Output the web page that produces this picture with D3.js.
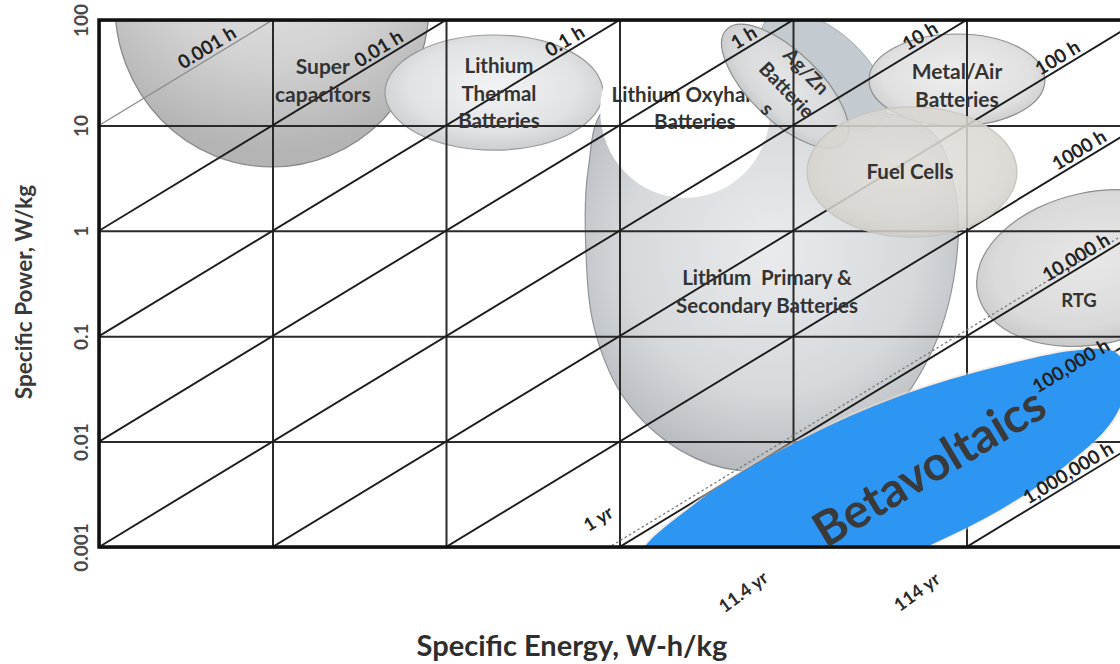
<!DOCTYPE html>
<html>
<head>
<meta charset="utf-8">
<script src="https://cdn.jsdelivr.net/npm/d3@7"></script>
<style>
  html, body { margin: 0; padding: 0; background: #fff; }
  svg { display: block; font-family: Lato, "Open Sans", sans-serif; }
</style>
</head>
<body>
<svg id="chart" width="1120" height="664"></svg>
<script>
// ---- Axes (decades, W-h/kg and W/kg) ----
const energyTicks = [0.01, 0.1, 1, 10, 100, 1000, 10000];
const powerTicks = [0.001, 0.01, 0.1, 1, 10, 100];
const powerTickLabels = ["0.001", "0.01", "0.1", "1", "10", "100"];

// ---- Constant discharge-time lines (hours) ----
const runHours = [0.001, 0.01, 0.1, 1, 10, 100, 1000, 10000, 100000, 1000000];
const runLabels = ["0.001 h", "0.01 h", "0.1 h", "1 h", "10 h", "100 h", "1000 h", "10,000 h", "100,000 h", "1,000,000 h"];
const runLabelEnergy = [0.045, 0.44, 5.2, 56, 580, 3600, 4800, 4600, 4300, 4150];

// one-year line and the year equivalents of the longest lines
const yearHours = 8760;
const yearLabel = "1 yr";
const yearEquivHours = [100000, 1000000];
const yearEquivLabels = ["11.4 yr", "114 yr"];

// ---- Technology regions as ellipses: centre (W-h/kg, W/kg), half-size in decades, tilt ----
const blobKeys   = ["super", "thermal", "oxyhalide", "agznBack", "agzn", "metalAir", "rtg", "fuel"];
const blobEnergy = [0.0993, 1.89, 23.9, 150, 90, 881, 5510, 485];
const blobPower  = [139, 20.5, 14, 33, 23.5, 27, 0.443, 3.61];
const blobSpanE  = [0.905, 0.628, 0.49, 0.44, 0.47, 0.507, 0.692, 0.605];
const blobSpanP  = [1.537, 0.546, 0.835, 0.38, 0.33, 0.436, 0.721, 0.617];
const blobTilt   = [0, 0, 0, 42, 44, 0, -12, 0];

// Lithium primary & secondary batteries outline (W-h/kg, W/kg)
const liPrimaryEnergy = [8.4, 6.6, 6.4, 7.2, 10.8, 22.3, 49.5, 125, 317, 616, 859, 859, 616, 213, 38];
const liPrimaryPower  = [14.6, 3.8, 0.66, 0.115, 0.025, 0.0083, 0.0053, 0.0064, 0.0144, 0.066, 0.42, 2.44, 9.0, 14.6, 15.6];

// Betavoltaics outline (W-h/kg, W/kg)
const betaEnergy = [13.1, 29.1, 110, 414, 1560, 4510, 7170, 8530, 6980, 3460, 1560, 617, 213, 37.9];
const betaPower  = [0.000753, 0.00279, 0.01035, 0.0271, 0.0521, 0.0740, 0.0708, 0.0429, 0.0160, 0.00538, 0.00225, 0.00104, 0.000486, 0.000391];

// Region names and their anchor points
const nameLines  = [["Super", "capacitors"], ["Lithium", "Thermal", "Batteries"], ["Lithium Oxyhalide", "Batteries"],
                    ["Metal/Air", "Batteries"], ["Fuel Cells"], ["Lithium\u00a0 Primary &", "Secondary Batteries"], ["RTG"]];
const nameEnergy = [0.195, 2.02, 27.2, 881, 472, 70.8, 4450];
const namePower  = [26.4, 19.9, 14.6, 23.7, 3.61, 0.262, 0.220];
const agznLines = ["Ag/Zn", "Batterie", "s"];
const agznEnergy = 92.2, agznPower = 21.7;
const betaLabel = "Betavoltaics";
const betaLabelEnergy = 608, betaLabelPower = 0.00574;

// ---- Layout ----
const svg = d3.select("#chart");
const x = d3.scaleLog().domain([0.01, 10000]).range([99, 1140]);
const y = d3.scaleLog().domain([0.001, 100]).range([547, 20]);
const [x0, x1] = x.range();
const [yb, yt] = y.range();

const defs = svg.append("defs");
defs.append("clipPath").attr("id", "plotClip")
  .append("rect").attr("x", x0).attr("y", yt).attr("width", x1 - x0).attr("height", yb - yt);

function radial(id, stops, cx = "50%", cy = "45%", r = "60%") {
  const g = defs.append("radialGradient").attr("id", id).attr("cx", cx).attr("cy", cy).attr("r", r);
  stops.forEach(([o, c]) => g.append("stop").attr("offset", o).attr("stop-color", c));
}
radial("gSuper", [["0%", "#ececec"], ["60%", "#d2d2d2"], ["100%", "#b4b4b4"]], "50%", "25%", "70%");
radial("gThermal", [["0%", "#f2f3f4"], ["65%", "#e0e2e3"], ["100%", "#c6c9cb"]]);
radial("gPrimary", [["0%", "#e9ebed"], ["60%", "#d6d9dc"], ["100%", "#afb3b7"]], "50%", "40%", "65%");
radial("gMetal", [["0%", "#eeeeee"], ["70%", "#e0e0e0"], ["100%", "#c8c8c8"]]);
radial("gRtg", [["0%", "#e8e8e8"], ["70%", "#dadada"], ["100%", "#c2c2c2"]]);
radial("gAgzn", [["0%", "#e4e5e6"], ["70%", "#d6d8d9"], ["100%", "#c2c5c7"]]);
radial("gFuel", [["0%", "#e3e1dc"], ["75%", "#d9d6d0"], ["100%", "#cbc8c1"]]);

function ellipse(g, i, attrs) {
  const cx = x(blobEnergy[i]), cy = y(blobPower[i]);
  const rx = x(blobEnergy[i] * Math.pow(10, blobSpanE[i])) - cx;
  const ry = cy - y(blobPower[i] * Math.pow(10, blobSpanP[i]));
  const el = g.append("ellipse").attr("cx", cx).attr("cy", cy).attr("rx", rx).attr("ry", ry)
    .attr("transform", `rotate(${blobTilt[i]},${cx},${cy})`);
  Object.entries(attrs).forEach(([k, v]) => el.attr(k, v));
  return el;
}
const idx = k => blobKeys.indexOf(k);
const outline = (es, ps) => d3.line().curve(d3.curveCatmullRomClosed.alpha(0.5))(es.map((e, i) => [x(e), y(ps[i])]));

// ---- Regions below the grid ----
const under = svg.append("g").attr("clip-path", "url(#plotClip)");
ellipse(under, idx("super"), { fill: "url(#gSuper)", stroke: "#8a8a8a", "stroke-width": 1.3 });
ellipse(under, idx("thermal"), { fill: "url(#gThermal)", stroke: "#9a9a9a", "stroke-width": 1.2 });

under.append("path")
  .attr("d", outline(liPrimaryEnergy, liPrimaryPower))
  .attr("fill", "url(#gPrimary)").attr("stroke", "#909499").attr("stroke-width", 1.2);

ellipse(under, idx("oxyhalide"), { fill: "#ffffff" });

// Lithium oxyhalide name sits beneath the Ag/Zn region
const oxyI = 2;
under.append("text")
  .attr("x", x(nameEnergy[oxyI])).attr("y", y(namePower[oxyI]))
  .attr("text-anchor", "middle").attr("font-size", 20.5).attr("font-weight", 700).attr("fill", "#333")
  .selectAll("tspan").data(nameLines[oxyI]).join("tspan")
  .attr("x", x(nameEnergy[oxyI])).attr("dy", (d, j) => j === 0 ? -6 : 27).text(d => d);

ellipse(under, idx("rtg"), { fill: "url(#gRtg)", stroke: "#8e8e8e", "stroke-width": 1.2 });
ellipse(under, idx("agznBack"), { fill: "#c3cbd0", stroke: "#a9b1b5", "stroke-width": 1 });
ellipse(under, idx("agzn"), { fill: "url(#gAgzn)", stroke: "#8e8e8e", "stroke-width": 1.2 });
ellipse(under, idx("metalAir"), { fill: "url(#gMetal)", stroke: "#8e8e8e", "stroke-width": 1.2 });

// ---- Grid ----
const grid = svg.append("g");
grid.append("g").attr("transform", `translate(${x0},0)`)
  .call(d3.axisLeft(y).tickValues(powerTicks).tickSize(-(x1 - x0)).tickFormat(""))
  .call(g => g.select(".domain").remove())
  .call(g => g.selectAll("line").attr("stroke", "#2a2a2a").attr("stroke-width", 2));
grid.append("g").attr("transform", `translate(0,${yb})`)
  .call(d3.axisBottom(x).tickValues(energyTicks).tickSize(-(yb - yt)).tickFormat(""))
  .call(g => g.select(".domain").remove())
  .call(g => g.selectAll("line").attr("stroke", "#2a2a2a").attr("stroke-width", 2));

// ---- Constant-time lines ----
const runLine = t => d3.line()([x.domain()[0], x.domain()[1]].map(e => [x(e), y(e / t)]));
const lines = svg.append("g").attr("clip-path", "url(#plotClip)");
lines.selectAll("path.run").data(runHours).join("path").attr("class", "run")
  .attr("d", runLine).attr("fill", "none")
  .attr("stroke", (d, i) => i === 0 ? "#8c8c8c" : "#1c1c1c")
  .attr("stroke-width", (d, i) => i === 0 ? 1.3 : 1.9);
lines.append("path").attr("d", runLine(yearHours)).attr("fill", "none")
  .attr("stroke", "#7a7a7a").attr("stroke-width", 1.3).attr("stroke-dasharray", "2.5,2.5");

// ---- Fuel cells (translucent, over the grid) ----
const over = svg.append("g").attr("clip-path", "url(#plotClip)");
ellipse(over, idx("fuel"), { fill: "url(#gFuel)", "fill-opacity": 0.86, stroke: "#c6c3bc", "stroke-width": 1.2 });

// ---- Betavoltaics ----
const betaD = outline(betaEnergy, betaPower);
over.append("path").attr("d", betaD).attr("fill", "none")
  .attr("stroke", "#f1dccd").attr("stroke-width", 4).attr("stroke-opacity", 0.5);
over.append("path").attr("d", betaD).attr("fill", "#2d96f2");

// ---- Frame ----
svg.append("path")
  .attr("d", `M${x1},${yt}H${x0}V${yb}H${x1}`)
  .attr("fill", "none").attr("stroke", "#111").attr("stroke-width", 3.5);

// ---- Y tick labels (rotated) ----
svg.append("g").attr("transform", `translate(${x0},0)`)
  .call(d3.axisLeft(y).tickValues(powerTicks).tickSize(0).tickFormat((d, i) => powerTickLabels[i]))
  .call(g => g.select(".domain").remove())
  .call(g => g.selectAll("text")
    .attr("transform", "rotate(-90)").attr("x", 0).attr("y", -11).attr("dy", 0)
    .attr("text-anchor", "middle").attr("font-family", "Lato, sans-serif")
    .attr("font-size", 19).attr("font-weight", 700).attr("fill", "#4a4a4a"));

// ---- Time-line labels ----
const slopeAngle = Math.atan2(y(10) - y(1), x(10) - x(1)) * 180 / Math.PI;
svg.append("g").selectAll("text").data(runHours).join("text")
  .attr("transform", (t, i) => `translate(${x(runLabelEnergy[i])},${y(runLabelEnergy[i] / t)}) rotate(${slopeAngle})`)
  .attr("y", -4).attr("text-anchor", "middle")
  .attr("font-size", 19).attr("font-weight", 700).attr("fill", "#222")
  .text((t, i) => runLabels[i]);

// 1 yr label just above where the dashed line meets the bottom axis
const yrFoot = [x(y.domain()[0] * yearHours), yb];
svg.append("text")
  .attr("transform", `translate(${yrFoot[0] - 8},${yrFoot[1] - 23}) rotate(${slopeAngle})`)
  .attr("text-anchor", "middle").attr("font-size", 18).attr("font-weight", 700).attr("fill", "#222")
  .text(yearLabel);

// year equivalents below the axis, beside each line's foot
svg.append("g").selectAll("text").data(yearEquivHours).join("text")
  .attr("transform", t => `translate(${x(y.domain()[0] * t) - 46},${yb + 50}) rotate(-36)`)
  .attr("text-anchor", "middle").attr("font-size", 18).attr("font-weight", 700).attr("fill", "#2a2a2a")
  .text((t, i) => yearEquivLabels[i]);

// ---- Region names ----
const nameSize = [21, 20.5, 20.5, 21, 20.5, 20.5, 18.5];
const names = svg.append("g").attr("font-weight", 700).attr("fill", "#333");
nameLines.forEach((ls, i) => {
  if (i === oxyI) return;
  const cx = x(nameEnergy[i]), cy = y(namePower[i]);
  const step = ls.length > 1 ? 27.5 : 0;
  const t = names.append("text").attr("x", cx).attr("y", cy).attr("text-anchor", "middle")
    .attr("font-size", nameSize[i]);
  t.selectAll("tspan").data(ls).join("tspan")
    .attr("x", cx).attr("y", (d, j) => cy + 7 + (j - (ls.length - 1) / 2) * step).text(d => d);
});

// Ag/Zn name, tilted with its region
{
  const cx = x(agznEnergy), cy = y(agznPower);
  const t = names.append("text").attr("transform", `translate(${cx},${cy}) rotate(46)`)
    .attr("text-anchor", "middle").attr("font-size", 19.5);
  t.selectAll("tspan").data(agznLines).join("tspan")
    .attr("x", 0).attr("y", (d, j) => 7 + (j - 1) * 27).text(d => d);
}

// Betavoltaics
svg.append("text")
  .attr("transform", `translate(${x(betaLabelEnergy)},${y(betaLabelPower)}) rotate(-31)`)
  .attr("text-anchor", "middle").attr("dy", "0.35em")
  .attr("font-size", 48).attr("font-weight", 700).attr("fill", "#3a3a3a")
  .text(betaLabel);

// ---- Axis titles ----
svg.append("text").attr("x", 572).attr("y", 656).attr("text-anchor", "middle")
  .attr("font-size", 29).attr("font-weight", 700).attr("fill", "#2e2e2e")
  .text("Specific Energy, W-h/kg");
svg.append("text").attr("transform", "translate(32,292) rotate(-90)").attr("text-anchor", "middle")
  .attr("font-size", 22.5).attr("font-weight", 700).attr("fill", "#3a3a3a")
  .text("Specific Power, W/kg");
</script>
</body>
</html>
